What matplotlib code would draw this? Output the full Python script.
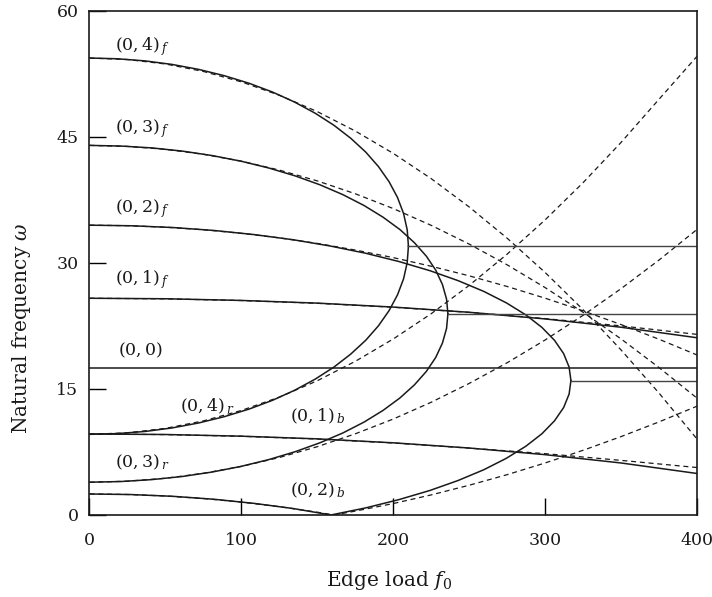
import matplotlib
matplotlib.use("Agg")
import matplotlib.pyplot as plt

plt.rcParams['font.family'] = ['DejaVu Serif']
plt.rcParams['mathtext.fontset'] = 'dejavuserif'

# solid curves (exact frequencies)
# (0,4) loop: upper (f) and lower (r) branch meet at the turning point
l4_x = [0, 18.3, 36.5, 54.3, 71.8, 88.7, 105.0, 120.5, 135.0, 148.5, 160.9, 172.0,
        181.9, 190.3, 197.3, 202.8, 206.8, 209.2, 210.0]
l4_up = [54.40, 54.31, 54.06, 53.64, 53.05, 52.30, 51.40, 50.35, 49.16, 47.84, 46.40, 44.85,
         43.20, 41.47, 39.66, 37.80, 35.89, 33.95, 32.00]
l4_low = [9.60, 9.69, 9.94, 10.36, 10.95, 11.70, 12.60, 13.65, 14.84, 16.16, 17.60, 19.15,
          20.80, 22.53, 24.34, 26.20, 28.11, 30.05, 32.00]
# (0,3) loop
l3_x = [0, 20.6, 41.0, 61.1, 80.7, 99.7, 118.0, 135.4, 151.7, 166.9, 180.8, 193.3,
        204.4, 213.9, 221.8, 228.0, 232.4, 235.1, 236.0]
l3_up = [44.00, 43.92, 43.70, 43.32, 42.79, 42.12, 41.31, 40.37, 39.31, 38.13, 36.84, 35.45,
         33.98, 32.42, 30.81, 29.14, 27.43, 25.70, 23.95]
l3_low = [3.90, 3.98, 4.21, 4.58, 5.11, 5.78, 6.59, 7.53, 8.59, 9.77, 11.06, 12.45,
          13.93, 15.48, 17.09, 18.76, 20.47, 22.20, 23.95]
# (0,2) loop
l2_x = [0, 27.6, 55.0, 82.0, 108.4, 134.0, 158.5, 181.8, 203.8, 224.2, 242.8, 259.7,
        274.5, 287.3, 297.9, 306.2, 312.2, 315.8, 317.0]
l2_up = [34.50, 34.43, 34.22, 33.87, 33.38, 32.77, 32.02, 31.16, 30.17, 29.08, 27.89, 26.61,
         25.25, 23.82, 22.33, 20.79, 19.21, 17.61, 16.00]
b2_x = [0, 27.6, 55.0, 82.0, 108.4, 134.0, 159.0, 181.8, 203.8, 224.2, 242.8, 259.7,
        274.5, 287.3, 297.9, 306.2, 312.2, 315.8, 317.0]
b2_y = [2.50, 2.43, 2.22, 1.87, 1.38, 0.77, 0.00, 0.84, 1.83, 2.92, 4.11, 5.39,
        6.75, 8.18, 9.67, 11.21, 12.79, 14.39, 16.00]
# (0,1) pair
l1_x = [0, 50, 100, 150, 200, 250, 300, 350, 400]
l1_up = [25.80, 25.74, 25.54, 25.22, 24.75, 24.13, 23.34, 22.35, 21.10]
l1_low = [9.64, 9.58, 9.38, 9.06, 8.59, 7.97, 7.18, 6.19, 4.94]
# (0,0) mode and the flat parts past the turning points
mode00 = 17.5
flat_start = [210.0, 236.0, 317.0]
flat_level = [32.0, 23.95, 16.0]

# dashed curves (approximate solution)
d_x = [0, 25, 50, 75, 100, 125, 150, 175, 200, 225, 250, 275, 300, 325, 350, 375, 400]
d4_up = [54.40, 54.22, 53.69, 52.80, 51.56, 49.97, 48.02, 45.71, 43.05, 40.04, 36.67, 32.95,
         28.87, 24.44, 19.65, 14.51, 9.05]
d4_low = [9.60, 9.78, 10.31, 11.20, 12.44, 14.03, 15.98, 18.29, 20.95, 23.96, 27.33, 31.05,
          35.13, 39.56, 44.35, 49.49, 54.60]
d3_up = [44.00, 43.88, 43.53, 42.94, 42.12, 41.06, 39.77, 38.24, 36.48, 34.48, 32.25, 29.78,
         27.07, 24.13, 20.96, 17.55, 13.91]
d3_low = [3.90, 4.02, 4.37, 4.96, 5.78, 6.84, 8.13, 9.66, 11.42, 13.42, 15.66, 18.12,
          20.83, 23.77, 26.94, 30.35, 33.99]
d2_up = [34.50, 34.44, 34.26, 33.96, 33.53, 32.99, 32.33, 31.54, 30.64, 29.61, 28.47, 27.20,
         25.81, 24.30, 22.67, 20.92, 19.05]
d2b_x = [0, 25, 50, 75, 100, 125, 150, 160.9, 175, 200, 225, 250, 275, 300, 325, 350, 375, 400]
d2b_y = [2.50, 2.44, 2.26, 1.96, 1.53, 0.99, 0.33, 0.00, 0.46, 1.36, 2.39, 3.54, 4.80, 6.19,
         7.70, 9.33, 11.08, 12.95]
d1_x = [0, 50, 100, 150, 200, 250, 300, 350, 400]
d1_up = [25.80, 25.73, 25.53, 25.20, 24.73, 24.12, 23.38, 22.51, 21.50]
d1_low = [9.64, 9.57, 9.37, 9.04, 8.57, 7.96, 7.30, 6.50, 5.65]

# curve labels
labels = [r'$(0,4)_{\,f}$', r'$(0,3)_{\,f}$', r'$(0,2)_{\,f}$', r'$(0,1)_{\,f}$', r'$(0,0)$',
          r'$(0,4)_{\,r}$', r'$(0,3)_{\,r}$', r'$(0,1)_{\,b}$', r'$(0,2)_{\,b}$']
label_x = [17, 17, 17, 17, 19, 59.5, 16.6, 132.3, 132.3]
label_y = [55.3, 45.6, 36.0, 27.6, 19.0, 12.4, 5.7, 11.2, 2.3]

x_ticks = [0, 100, 200, 300, 400]
y_ticks = [0, 15, 30, 45, 60]

fig = plt.figure(figsize=(7.12, 5.97), dpi=100)
ax = fig.add_axes([0.1257, 0.1374, 0.8532, 0.8442])

ink = '#1a1a1a'
dash = dict(color=ink, lw=0.9, dashes=(4, 3))
# dashed first
ax.plot(d_x, d4_up, **dash)
ax.plot(d_x, d4_low, **dash)
ax.plot(d_x, d3_up, **dash)
ax.plot(d_x, d3_low, **dash)
ax.plot(d_x, d2_up, **dash)
ax.plot(d2b_x, d2b_y, **dash)
ax.plot(d1_x, d1_up, **dash)
ax.plot(d1_x, d1_low, **dash)

solid = dict(color=ink, lw=1.1)
ax.plot(l4_x, l4_up, **solid)
ax.plot(l4_x, l4_low, **solid)
ax.plot(l3_x, l3_up, **solid)
ax.plot(l3_x, l3_low, **solid)
ax.plot(l2_x, l2_up, **solid)
ax.plot(b2_x, b2_y, **solid)
ax.plot(l1_x, l1_up, **solid)
ax.plot(l1_x, l1_low, **solid)
ax.plot([0, 400], [mode00, mode00], **solid)
for xs, yl in zip(flat_start, flat_level):
    ax.plot([xs, 400], [yl, yl], color='#444444', lw=1.0)

for t, x, y in zip(labels, label_x, label_y):
    ax.text(x, y, t, fontsize=12.5, ha='left', va='baseline', color=ink)

ax.set_xlim(0, 400)
ax.set_ylim(0, 60)
ax.set_xticks(x_ticks)
ax.set_yticks(y_ticks)
ax.tick_params(direction='in', length=12, width=1, labelsize=12.5, top=False, right=False,
               labelcolor=ink)
ax.tick_params(axis='x', pad=12)
ax.tick_params(axis='y', pad=8)
for s in ax.spines.values():
    s.set_linewidth(1.2)
    s.set_color(ink)

fig.text(389 / 712, 1 - 586 / 597, r'Edge load $f_0$', fontsize=14.5, ha='center',
         va='baseline', color=ink)
fig.text(22 / 712, 1 - 328 / 597, r'Natural frequency $\omega$', fontsize=14.5,
         rotation=90, ha='center', va='center', color=ink)

plt.savefig('out.png', dpi=100)
